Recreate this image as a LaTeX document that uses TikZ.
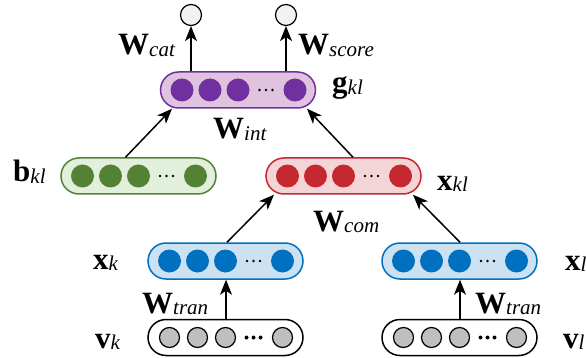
\documentclass[tikz,border=0pt]{standalone}
\usepackage{fontspec}
\setmainfont{Liberation Serif}
\usetikzlibrary{arrows.meta}

\definecolor{purpledot}{HTML}{7030A0}
\definecolor{purplebg}{HTML}{DFC3DF}
\definecolor{greendot}{HTML}{548235}
\definecolor{greenbg}{HTML}{E2EFDA}
\definecolor{reddot}{HTML}{C5282F}
\definecolor{redbg}{HTML}{F4D5D7}
\definecolor{bluedot}{HTML}{0070C0}
\definecolor{bluebg}{HTML}{CCE2F2}
\definecolor{graydot}{HTML}{BFBFBF}
\definecolor{outbg}{HTML}{F2F2F2}

% bold symbol with italic subscript
\newcommand{\lbl}[2]{\textbf{#1}\raisebox{-1.5pt}{\fontsize{21}{21}\selectfont\textit{#2}}}

\tikzset{
	layer/.style={rectangle, rounded corners=18pt, minimum width=155pt, minimum height=36pt, line width=1.5pt, inner sep=0pt},
	outc/.style={circle, draw, fill=outbg, line width=1.2pt, minimum size=21pt, inner sep=0pt},
	arr/.style={-{Stealth[length=15pt, width=12pt, inset=4pt]}, line width=1.5pt},
	lab/.style={anchor=base west, inner sep=0pt, font=\fontsize{31}{31}\selectfont}
}

\begin{document}
\begin{tikzpicture}[x=1pt, y=-1pt]
	\useasboundingbox (0, 0) rectangle (586, 358);

	% \drawlayer#name#x#y#color#fill
	\def\drawlayer#1#2#3#4#5{
		\node[layer, draw=#4, fill=#5] (#1) at (#2, #3) {};
		\foreach \dx in {-56, -28, 0, 57}
			\fill[#4] (#2 + \dx, #3) circle (11.5pt);
		\foreach \dx in {21.5, 28, 34.5}
			\fill (#2 + \dx, #3) circle (1.4pt);
	}

	% \drawinput#name#x#y
	\def\drawinput#1#2#3{
		\node[layer, draw=black, fill=white] (#1) at (#2, #3) {};
		\foreach \dx in {-56, -28, 0, 57}
			\filldraw[fill=graydot, line width=1.2pt] (#2 + \dx, #3) circle (10pt);
		\foreach \dx in {21, 28, 35}
			\fill (#2 + \dx, #3) circle (2pt);
	}

	% layers
	\drawlayer{g}{238}{90}{purpledot}{purplebg}
	\drawlayer{b}{138.5}{176}{greendot}{greenbg}
	\drawlayer{xkl}{343.5}{176}{reddot}{redbg}
	\drawlayer{xk}{225.5}{261}{bluedot}{bluebg}
	\drawlayer{xl}{459.5}{261}{bluedot}{bluebg}
	\drawinput{vk}{225.5}{337.5}
	\drawinput{vl}{459.5}{337.5}

	% outputs
	\node[outc] (cat) at (191, 15) {};
	\node[outc] (score) at (286, 15) {};

	% connections
	\draw[arr] (g.north -| cat) -- (cat);
	\draw[arr] (g.north -| score) -- (score);
	\draw[arr] ([xshift=-13pt]b.north) -- ([xshift=-66pt]g.south);
	\draw[arr] ([xshift=9.5pt]xkl.north) -- ([xshift=69pt]g.south);
	\draw[arr] ([xshift=1.5pt]xk.north) -- ([xshift=-69.5pt]xkl.south);
	\draw[arr] ([xshift=0.5pt]xl.north) -- ([xshift=69.5pt]xkl.south);
	\draw[arr] ([xshift=0.5pt]vk.north) -- ([xshift=0.5pt]xk.south);
	\draw[arr] ([xshift=0.5pt]vl.north) -- ([xshift=0.5pt]xl.south);

	% labels
	\node[lab] (lcat) at (118, 55) {\lbl{W}{cat}};
	\node[lab] (lscore) at (298, 55) {\lbl{W}{score}};
	\node[lab] (lg) at (332, 93) {\lbl{g}{kl}};
	\node[lab] (lint) at (213, 139) {\lbl{W}{int}};
	\node[lab] (lb) at (13, 182) {\lbl{b}{kl}};
	\node[lab] (lxkl) at (437, 190) {\lbl{x}{kl}};
	\node[lab] (lcom) at (313, 231) {\lbl{W}{com}};
	\node[lab] (lxk) at (93, 269) {\lbl{x}{k}};
	\node[lab] (lxl) at (565, 270) {\lbl{x}{l}};
	\node[lab] (ltranl) at (142, 313) {\lbl{W}{tran}};
	\node[lab] (ltranr) at (475, 313) {\lbl{W}{tran}};
	\node[lab] (lvk) at (95, 348) {\lbl{v}{k}};
	\node[lab] (lvl) at (563, 348) {\lbl{v}{l}};
\end{tikzpicture}
\end{document}
